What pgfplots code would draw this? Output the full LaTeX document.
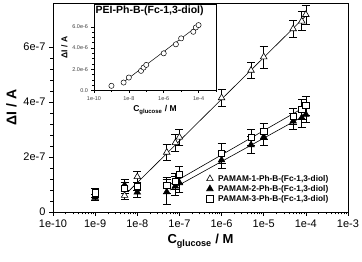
\documentclass[border=0pt]{standalone}
\usepackage{pgfplots}
\pgfplotsset{compat=1.18}
\usepackage{fontspec}
\setmainfont{Liberation Sans}
\begin{document}
\begin{tikzpicture}[x=1pt,y=1pt]
\begin{axis}[
  at={(53pt,50pt)}, anchor=south west,
  scale only axis, width=295pt, height=209pt,
  xmode=log, xmin=1e-10, xmax=1e-3,
  ymin=0, ymax=7.6e-7,
  xtick={1e-10,1e-9,1e-8,1e-7,1e-6,1e-5,1e-4,1e-3},
  xticklabels={1e-10,1e-9,1e-8,1e-7,1e-6,1e-5,1e-4,1e-3},
  minor xtick={},
  ytick={0,2e-7,4e-7,6e-7},
  yticklabels={0,2e-7,4e-7,6e-7},
  scaled y ticks=false,
  minor y tick num=4,
  tick align=outside, xtick pos=bottom, ytick pos=left,
  major tick length=4pt, minor tick length=2.5pt,
  tick style={black, line width=0.6pt},
  axis line style={line width=0.6pt},
  ticklabel style={font=\fontsize{11}{13}\selectfont},
  xlabel={\textbf{C\textsubscript{glucose} / M}},
  ylabel={\textbf{ΔI / A}},
  xlabel style={font=\fontsize{13}{15}\selectfont},
  ylabel style={font=\fontsize{14}{16}\selectfont},
  legend style={at={(0.51,0.025)}, anchor=south west, draw=none, fill=none,
     font=\bfseries\fontsize{8.3}{10}\selectfont, row sep=-1.5pt,
     nodes={inner xsep=5pt}},
  legend cell align=left,
  error bars/error bar style={black, line width=0.6pt},
  error bars/error mark options={black, rotate=90, mark size=4pt, line width=0.6pt},
]
\addplot[black, line width=0.6pt, forget plot] coordinates {(6e-9,0.73e-7) (1.07e-4,7.18e-7)};
\addplot[black, line width=0.6pt, forget plot] coordinates {(6e-8,1.0e-7) (1.05e-4,3.86e-7)};
\addplot[black, line width=0.6pt, forget plot] coordinates {(6e-8,0.8e-7) (1.05e-4,3.55e-7)};
\addplot[only marks, mark=triangle*, mark size=3.8pt, mark options={fill=white, draw=black, line width=0.6pt},
  error bars/.cd, y dir=both, y explicit]
  table[x=x, y=y, y error=e] {
  x y e
  5e-9 0.60e-7 0.15e-7
  1e-8 1.28e-7 0.2e-7
  5e-8 2.17e-7 0.3e-7
  8e-8 2.52e-7 0.3e-7
  1e-7 2.72e-7 0.3e-7
  1e-6 4.15e-7 0.3e-7
  5e-6 5.15e-7 0.3e-7
  1e-5 5.64e-7 0.4e-7
  5e-5 6.66e-7 0.3e-7
  8e-5 6.94e-7 0.35e-7
  1e-4 7.18e-7 0.35e-7
  };
\addlegendentry{PAMAM-1-Ph-B-(Fc-1,3-diol)}
\addplot[only marks, mark=triangle*, mark size=3.8pt, mark options={fill=black, draw=black, line width=0.6pt},
  error bars/.cd, y dir=both, y explicit]
  table[x=x, y=y, y error=e] {
  x y e
  1e-9 0.53e-7 0.1e-7
  5e-9 0.98e-7 0.2e-7
  1e-8 0.72e-7 0.2e-7
  5e-8 0.73e-7 0.45e-7
  8e-8 0.94e-7 0.35e-7
  1e-7 1.06e-7 0.35e-7
  1e-6 1.89e-7 0.3e-7
  5e-6 2.44e-7 0.3e-7
  1e-5 2.73e-7 0.3e-7
  5e-5 3.30e-7 0.3e-7
  8e-5 3.43e-7 0.35e-7
  1e-4 3.55e-7 0.3e-7
  };
\addlegendentry{PAMAM-2-Ph-B-(Fc-1,3-diol)}
\addplot[only marks, mark=square*, mark size=3.2pt, mark options={fill=white, draw=black, line width=0.6pt},
  error bars/.cd, y dir=both, y explicit]
  table[x=x, y=y, y error=e] {
  x y e
  1e-9 0.70e-7 0.15e-7
  5e-9 0.87e-7 0.2e-7
  1e-8 0.94e-7 0.15e-7
  5e-8 0.97e-7 0.3e-7
  8e-8 1.12e-7 0.3e-7
  1e-7 1.36e-7 0.3e-7
  1e-6 2.13e-7 0.35e-7
  5e-6 2.71e-7 0.3e-7
  1e-5 2.94e-7 0.3e-7
  5e-5 3.48e-7 0.3e-7
  8e-5 3.73e-7 0.35e-7
  1e-4 3.87e-7 0.35e-7
  };
\addlegendentry{PAMAM-3-Ph-B-(Fc-1,3-diol)}
\end{axis}
\begin{axis}[
  at={(94pt,171.5pt)}, anchor=south west,
  scale only axis, width=122pt, height=86pt,
  axis background/.style={fill=white},
  xmode=log, xmin=1e-10, xmax=1e-3,
  ymin=0, ymax=8.1e-6,
  xtick={1e-10,1e-8,1e-6,1e-4},
  xticklabels={1e-10,1e-8,1e-6,1e-4},
  minor xtick={1e-9,1e-7,1e-5,1e-3},
  ytick={0,2e-6,4e-6,6e-6},
  yticklabels={0.0,2.0e-6,4.0e-6,6.0e-6},
  scaled y ticks=false,
  minor y tick num=3,
  tick align=outside, xtick pos=bottom, ytick pos=left,
  major tick length=2.5pt, minor tick length=1.5pt,
  tick style={black, line width=0.5pt},
  axis line style={line width=0.6pt},
  ticklabel style={font=\fontsize{5.5}{6.5}\selectfont, text=black!75},
  xlabel={\textbf{C\textsubscript{glucose} / M}},
  ylabel={\textbf{ΔI / A}},
  xlabel style={font=\fontsize{8.5}{10}\selectfont, yshift=2pt},
  ylabel style={font=\fontsize{8.5}{10}\selectfont, yshift=-2pt},
]
\addplot[black, line width=0.5pt] coordinates {(5e-9,0.8e-6) (1.1e-4,6.2e-6)};
\addplot[only marks, mark=*, mark size=2.6pt, mark options={fill=white, draw=black, line width=0.5pt}]
  table {
  x y
  1e-9 0.44e-6
  5e-9 0.75e-6
  1e-8 1.22e-6
  5e-8 1.85e-6
  7e-8 2.16e-6
  1e-7 2.41e-6
  1e-6 3.50e-6
  5e-6 4.35e-6
  1e-5 4.91e-6
  5e-5 5.53e-6
  7e-5 5.94e-6
  1e-4 6.16e-6
  };
\node[anchor=north west, inner sep=1.5pt, font=\bfseries\fontsize{10.5}{12}\selectfont] at (rel axis cs:0,1) {PEI-Ph-B-(Fc-1,3-diol)};
\end{axis}
\pgfresetboundingbox
\useasboundingbox (0,0) rectangle (362,262);
\end{tikzpicture}
\end{document}
